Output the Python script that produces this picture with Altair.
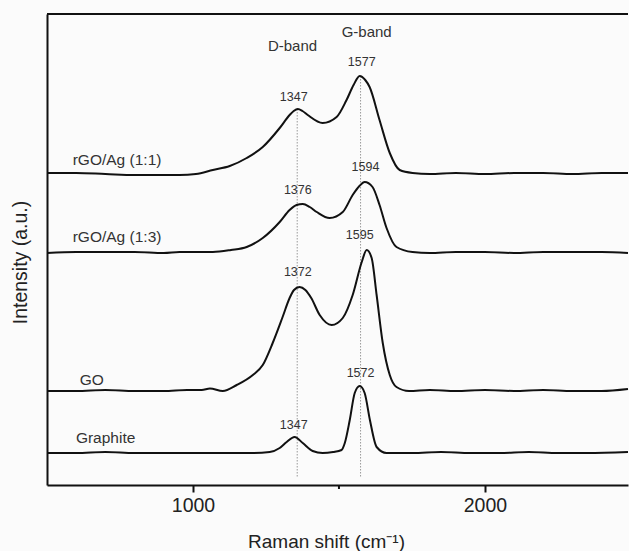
import altair as alt
import pandas as pd

FONT = "Liberation Sans"

# ---- spectra (Raman shift, offset intensity in a.u.) ----
x_11 = [500, 600, 700, 800, 900, 954, 1010, 1068, 1126, 1184, 1239, 1297, 1331, 1345, 1359, 1375, 1393, 1444, 1492, 1526, 1550, 1571, 1590, 1605, 1639, 1674, 1708, 1752, 1811, 1900, 2000, 2100, 2200, 2300, 2400, 2490]
y_11 = [312, 312, 311, 310, 310, 310, 311, 315, 319, 327, 338, 357, 370, 374, 376, 374, 370, 362, 368, 385, 400, 409, 405, 398, 365, 332, 315, 312, 311, 312, 311, 312, 312, 311, 312, 312]

x_13 = [500, 600, 700, 800, 900, 954, 1068, 1130, 1184, 1239, 1297, 1331, 1355, 1376, 1400, 1424, 1468, 1513, 1547, 1570, 1588, 1615, 1639, 1663, 1697, 1752, 1811, 1900, 2000, 2100, 2200, 2300, 2400, 2490]
y_13 = [232, 233, 233, 233, 232, 233, 233, 235, 238, 247, 263, 275, 280, 281, 278, 273, 267, 273, 290, 299, 303, 298, 280, 257, 238, 233, 232, 233, 233, 232, 233, 233, 233, 232]

x_go = [500, 600, 700, 800, 900, 980, 1030, 1058, 1102, 1150, 1205, 1239, 1273, 1307, 1331, 1346, 1365, 1385, 1405, 1434, 1475, 1513, 1547, 1578, 1595, 1612, 1629, 1650, 1674, 1697, 1740, 1811, 1900, 2000, 2100, 2200, 2300, 2400, 2490]
y_go = [94, 94, 95, 94, 94, 95, 95, 96.5, 94, 100, 110, 120, 142, 168, 187, 195, 198, 195, 187, 170, 160, 167, 190, 223, 235, 227, 190, 142, 110, 98, 94, 95, 94, 95, 94, 95, 94, 94, 96]

x_gr = [500, 600, 700, 800, 900, 1000, 1100, 1200, 1263, 1297, 1321, 1348, 1376, 1410, 1444, 1480, 1509, 1520, 1537, 1554, 1571, 1588, 1606, 1629, 1663, 1752, 1850, 1950, 2050, 2150, 2250, 2350, 2490]
y_gr = [32, 32, 33, 32, 32, 32, 32, 32, 33, 37, 43, 48, 42, 34, 32, 33, 35, 42, 65, 92, 99, 92, 65, 38, 32, 32, 33, 32, 32, 33, 32, 32, 33]

series_names = ["rGO/Ag (1:1)", "rGO/Ag (1:3)", "GO", "Graphite"]
series_x = [x_11, x_13, x_go, x_gr]
series_y = [y_11, y_13, y_go, y_gr]

# ---- reference lines (D and G band) ----
band_x = [1357, 1574]
band_top = [376, 409]
band_bottom = [7, 7]

# ---- peak labels ----
peak_text = ["1577", "1347", "1594", "1376", "1595", "1372", "1572", "1347"]
peak_x = [1578, 1345, 1591, 1359, 1571, 1359, 1574, 1345]
peak_y = [423, 388, 318, 295, 250, 213, 112, 60]

band_text = ["D-band", "G-band"]
band_lx = [1341, 1595]
band_ly = [439, 453]

name_x = [588, 588, 612, 599]
name_y = [325, 248, 105, 47]

x_ticks = [1000, 2000]
minor_ticks = [1500]

W, H = 581, 471
xs = alt.Scale(domain=[500, 2490], nice=False, zero=False)
ys = alt.Scale(domain=[0, 471], nice=False, zero=False)

rows = []
for n, xx, yy in zip(series_names, series_x, series_y):
    for a, b in zip(xx, yy):
        rows.append({"series": n, "x": a, "y": b})
spec_df = pd.DataFrame(rows)

lines = alt.Chart(spec_df).mark_line(color="#111111", strokeWidth=2, interpolate="monotone").encode(
    x=alt.X("x:Q", scale=xs, axis=alt.Axis(
        values=x_ticks, format="d", grid=False, tickSize=7, tickWidth=2, tickColor="#111",
        domainColor="#111", domainWidth=2, labelFont=FONT, labelFontSize=19.5, labelColor="#222",
        labelPadding=4, title="Raman shift (cm⁻¹)", titleFont=FONT, titleFontSize=19,
        titleFontWeight="normal", titleColor="#222", titleX=279, titleY=62,
        titleBaseline="alphabetic", titleAlign="center")),
    y=alt.Y("y:Q", scale=ys, axis=alt.Axis(
        ticks=False, labels=False, grid=False, domainColor="#111", domainWidth=2,
        title="Intensity (a.u.)", titleFont=FONT, titleFontSize=19.5, titleFontWeight="normal",
        titleColor="#222", titleX=-27, titleY=248, titleAngle=-90, titleAlign="center",
        titleBaseline="middle")),
    detail="series:N",
)

band_df = pd.DataFrame({"x": band_x, "top": band_top, "bottom": band_bottom})
rules = alt.Chart(band_df).mark_rule(color="#999999", strokeWidth=1, strokeDash=[1.5, 1.5]).encode(
    x=alt.X("x:Q", scale=xs), y=alt.Y("top:Q", scale=ys), y2="bottom:Q")

peak_df = pd.DataFrame({"x": peak_x, "y": peak_y, "t": peak_text})
peaks = alt.Chart(peak_df).mark_text(font=FONT, fontSize=12.5, color="#333", align="center", baseline="middle").encode(
    x=alt.X("x:Q", scale=xs), y=alt.Y("y:Q", scale=ys), text="t:N")

bl_df = pd.DataFrame({"x": band_lx, "y": band_ly, "t": band_text})
bands = alt.Chart(bl_df).mark_text(font=FONT, fontSize=15, color="#333", align="center", baseline="middle").encode(
    x=alt.X("x:Q", scale=xs), y=alt.Y("y:Q", scale=ys), text="t:N")

nm_df = pd.DataFrame({"x": name_x, "y": name_y, "t": series_names})
names = alt.Chart(nm_df).mark_text(font=FONT, fontSize=15.5, color="#333", align="left", baseline="middle").encode(
    x=alt.X("x:Q", scale=xs), y=alt.Y("y:Q", scale=ys), text="t:N")

mt_df = pd.DataFrame({"x": minor_ticks})
minor = alt.Chart(mt_df).mark_rule(color="#111", strokeWidth=2).encode(
    x=alt.X("x:Q", scale=xs), y=alt.value(H), y2=alt.value(H + 4))

top_border = alt.Chart(pd.DataFrame({"a": [0]})).mark_rule(color="#111", strokeWidth=2).encode(
    x=alt.value(0), x2=alt.value(W), y=alt.value(0))

chart = alt.layer(rules, lines, peaks, bands, names, minor, top_border).properties(
    width=W, height=H,
    autosize=alt.AutoSizeParams(type="none"),
    padding={"left": 47, "top": 14, "right": 1, "bottom": 66},
    background="#fbfbfb",
).configure_view(stroke=None)

chart.save("out.html", embed_options={"renderer": "svg", "actions": False})
